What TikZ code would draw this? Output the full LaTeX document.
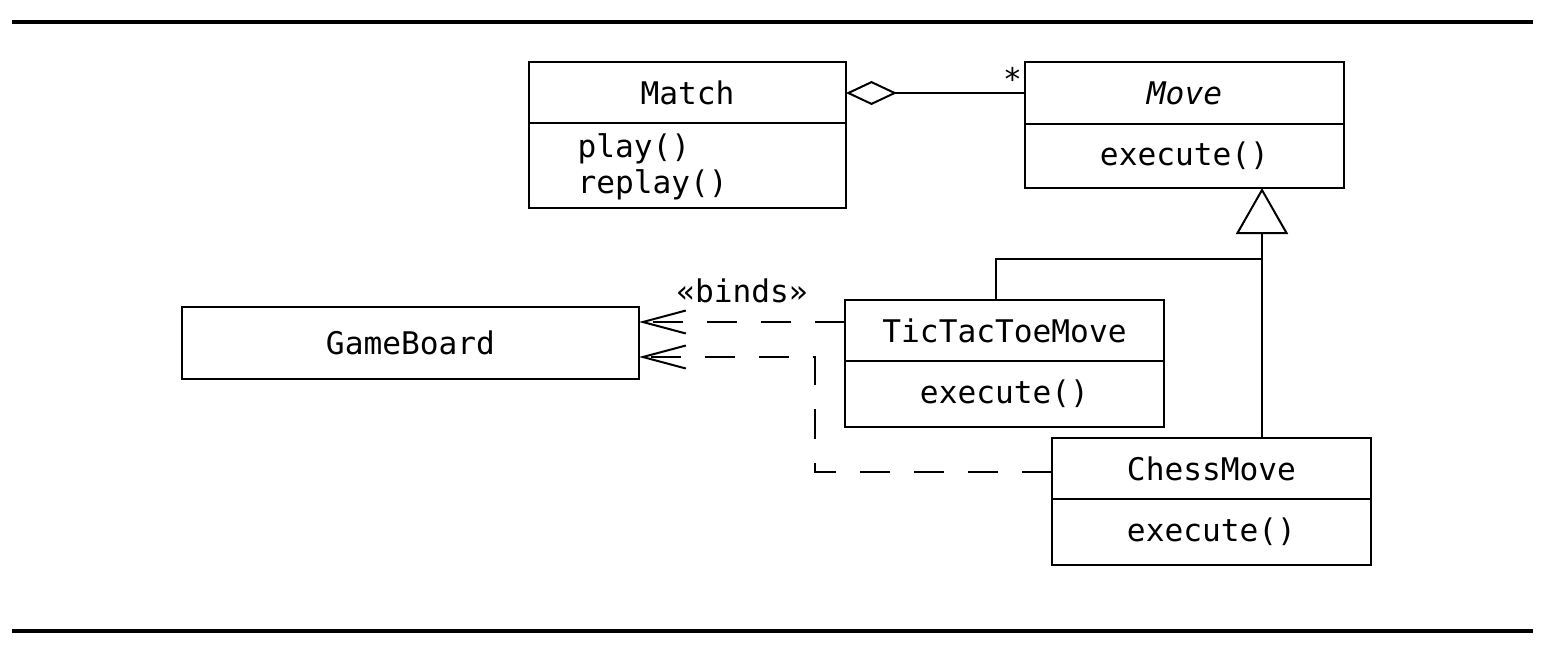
\documentclass[tikz,border=0pt]{standalone}
\usepackage{fontspec}
\setmonofont{DejaVu Sans Mono}
\usetikzlibrary{arrows.meta,positioning}

\begin{document}
\begin{tikzpicture}[x=0.5pt,y=-0.5pt,line width=1pt,
    every node/.style={font=\fontsize{15.6}{18}\selectfont\ttfamily},
    classhead/.style={draw,outer sep=0pt,inner sep=0pt,minimum width=159pt,minimum height=30.5pt},
    classbody/.style={draw,outer sep=0pt,inner sep=0pt,minimum width=159pt,minimum height=33pt},
    dep/.style={dash pattern=on 15pt off 12pt,-{Straight Barb[length=21.5pt,width=11.5pt]}}]
  \useasboundingbox (0,0) rectangle (1548,650);

  % page rules
  \draw[line width=2pt] (12,22) -- (1533,22);
  \draw[line width=2pt] (12,631) -- (1533,631);

  % classes
  \node[classhead,minimum width=158.5pt] (matchhead) at (687.5,92.5) {Match};
  \node[classbody,minimum width=158.5pt,minimum height=42.5pt,align=left,text width=110pt,inner ysep=0pt,below=0pt of matchhead] (matchbody) {\rule{0pt}{13.5pt}play()\\replay()};

  \node[classhead,minimum width=159.5pt,minimum height=31pt] (movehead) at (1184.5,93) {\itshape Move};
  \node[classbody,minimum width=159.5pt,minimum height=32pt,below=0pt of movehead] (movebody) {execute()};

  \node[classhead,minimum width=159.5pt] (ttthead) at (1004.5,330.5) {TicTacToeMove};
  \node[classbody,minimum width=159.5pt,below=0pt of ttthead] (tttbody) {execute()};

  \node[classhead,minimum width=159.5pt] (chesshead) at (1211.5,468.5) {ChessMove};
  \node[classbody,minimum width=159.5pt,below=0pt of chesshead] (chessbody) {execute()};

  \node[classhead,minimum width=228.5pt,minimum height=36pt] (board) at (410.5,343) {GameBoard};

  % aggregation
  \draw[{Diamond[open,length=25.5pt,width=12pt]}-] (matchhead.east |- movehead.west) -- (movehead.west)
    node[pos=1,above left,inner sep=1pt] {*};

  % generalization
  \coordinate (genjoint) at (1262,259);
  \coordinate (tttjoint) at (996,259);
  \draw[-{Triangle[open,length=23pt,width=26pt]}] (genjoint |- chesshead.north) -- (genjoint |- movebody.south);
  \draw (tttjoint |- ttthead.north) -- (tttjoint) -- (genjoint);

  % dependencies
  \coordinate (chessbend) at (815,357);
  \draw[dep] ([yshift=4.25pt]ttthead.west) -- ([yshift=4.25pt]ttthead.west -| board.east)
    node[midway,above=5.5pt] {«binds»};
  \draw[dep] ([yshift=-1.75pt]chesshead.west) -| (chessbend) -- (chessbend -| board.east);
\end{tikzpicture}
\end{document}
